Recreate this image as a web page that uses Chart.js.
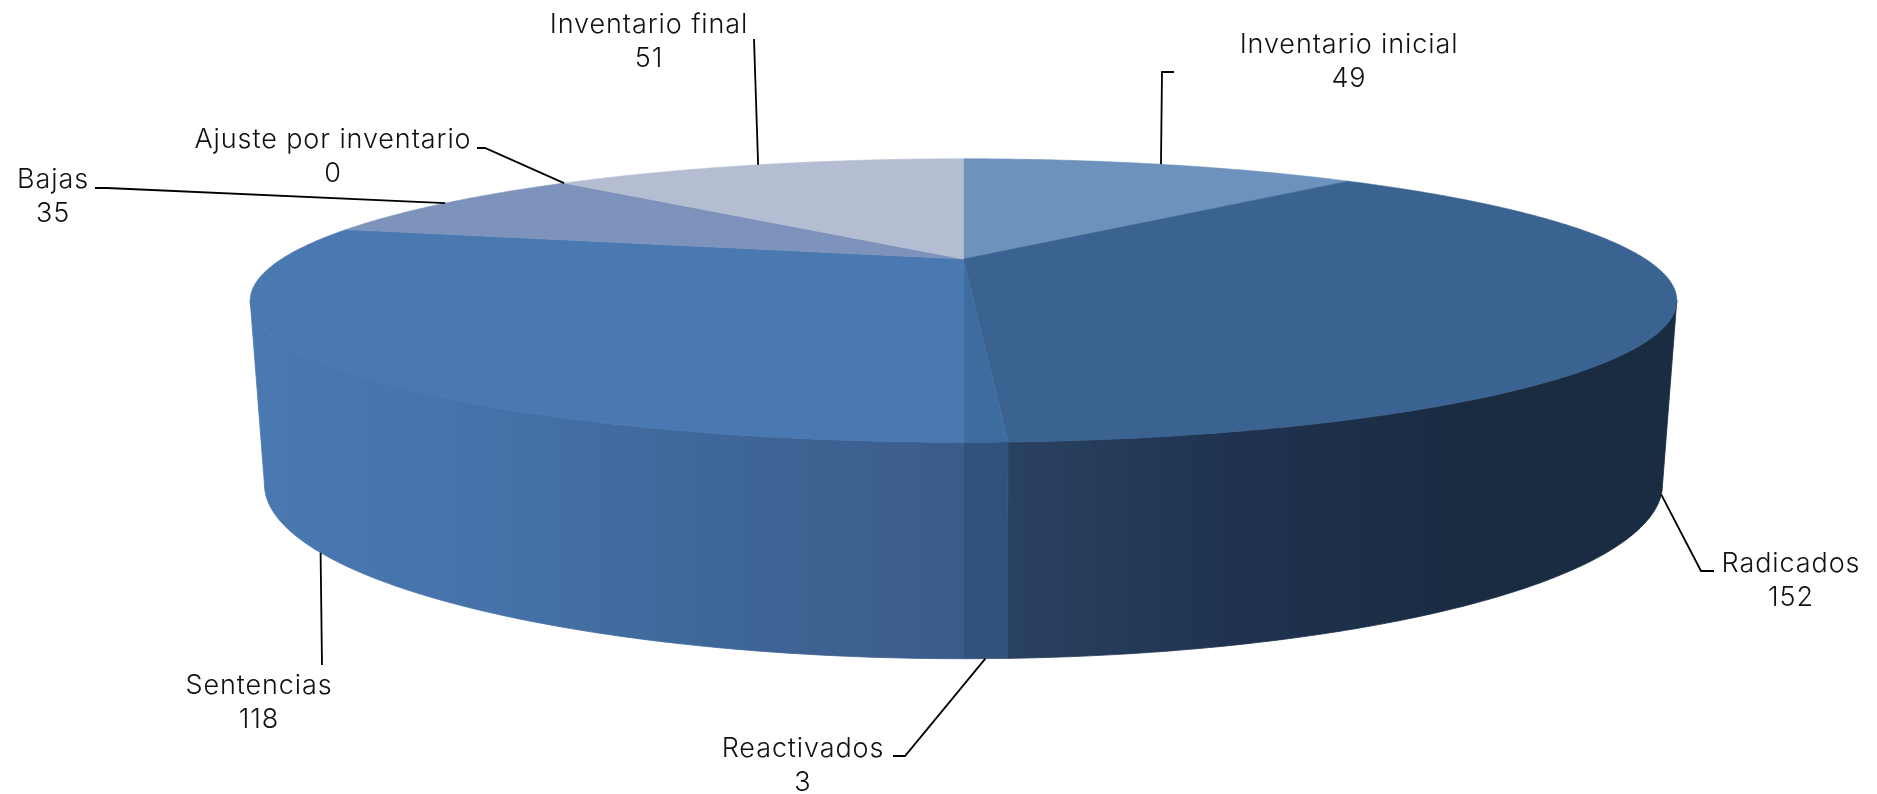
<!DOCTYPE html>
<html>
<head>
<meta charset="utf-8">
<title>Inventario</title>
<script src="https://cdn.jsdelivr.net/npm/chart.js@4"></script>
<style>
  html, body { margin: 0; padding: 0; background: #fff; overflow: hidden; }
  canvas { display: block; }
</style>
</head>
<body>
<canvas id="pie3d" width="1877" height="794"></canvas>
<script>
'use strict';

var categories = ['Inventario inicial', 'Radicados', 'Reactivados', 'Sentencias', 'Bajas', 'Ajuste por inventario', 'Inventario final'];
var values = [49, 152, 3, 118, 35, 0, 51];

var topColors = ['#6d93bd', '#3a6391', '#3f6c9f', '#4a78b1', '#7e93bb', '#8a9cc0', '#b5bdd2'];
// horizontal shading of the outer wall, left to right
var wallColors = [
  ['#3a6391', '#3a6391'],
  ['#2a4262', '#1f3350', '#1a2c42', '#1a2c42'],
  ['#30527b', '#30527b'],
  ['#4a78b1', '#4672a9', '#3e6698', '#3b5c89'],
  ['#7e93bb', '#7e93bb'],
  ['#8a9cc0', '#8a9cc0'],
  ['#b5bdd2', '#b5bdd2']
];

// perspective of the disc
var tilt = 0.293;
var topSquash = 0.19;
var bottomSquash = 0.234;
var bottomScale = 0.98;
var bottomDrop = 174;

// label placement: centre x, first baseline y
var labelX = [1349, 1791, 803, 259, 53, 333, 649];
var labelY = [53, 572, 757, 694, 188, 148, 33];
// leader line: bends from the label side, and whether it ends on the lower rim
var leaderBends = [
  [[1174, 72], [1162, 72]],
  [[1714, 571], [1701, 571]],
  [[893, 756], [905, 756]],
  [[322, 665]],
  [[95, 188], [107, 188]],
  [[477, 148], [485, 148]],
  [[754, 39]]
];
var leaderOnBottom = [false, true, true, true, false, false, false];

var fontName = '300 27px Inter, Lato, sans-serif';

function project(arc, angle, bottom) {
  var u = Math.cos(angle), v = Math.sin(angle);
  var w = 1 / (1 - tilt * v);
  var r = arc.outerRadius;
  if (bottom) {
    return { x: arc.x + r * bottomScale * u * w, y: arc.y + bottomDrop + r * bottomSquash * v * w };
  }
  return { x: arc.x + r * u * w, y: arc.y + r * topSquash * v * w };
}

function rimPoints(arc, from, to, bottom) {
  var n = Math.max(2, Math.ceil(Math.abs(to - from) * 90));
  var pts = [];
  for (var i = 0; i <= n; i++) {
    pts.push(project(arc, from + (to - from) * i / n, bottom));
  }
  return pts;
}

function tracePoints(ctx, pts, isFirst) {
  pts.forEach(function (p, i) {
    if (i === 0 && isFirst) { ctx.moveTo(p.x, p.y); } else { ctx.lineTo(p.x, p.y); }
  });
}

var pie3d = {
  id: 'pie3d',
  beforeDatasetsDraw: function (chart) {
    // outer wall, only the part that faces the viewer
    var ctx = chart.ctx;
    var frontFrom = Math.asin(tilt);
    var frontTo = Math.PI - frontFrom;
    chart.getDatasetMeta(0).data.forEach(function (arc, i) {
      var from = Math.max(arc.startAngle, frontFrom);
      var to = Math.min(arc.endAngle, frontTo);
      if (to <= from) { return; }
      var upper = rimPoints(arc, from, to, false);
      var lower = rimPoints(arc, to, from, true);
      var all = upper.concat(lower);
      var xs = all.map(function (p) { return p.x; });
      var grad = ctx.createLinearGradient(Math.min.apply(null, xs), 0, Math.max.apply(null, xs), 0);
      wallColors[i].forEach(function (c, k) {
        grad.addColorStop(k / (wallColors[i].length - 1), c);
      });
      ctx.beginPath();
      tracePoints(ctx, all, true);
      ctx.closePath();
      ctx.fillStyle = grad;
      ctx.strokeStyle = grad;
      ctx.lineWidth = 0.8;
      ctx.fill();
      ctx.stroke();
    });
  },
  beforeDatasetDraw: function (chart) {
    var ctx = chart.ctx;
    chart.getDatasetMeta(0).data.forEach(function (arc) {
      if (arc.endAngle <= arc.startAngle) { return; }
      ctx.beginPath();
      ctx.moveTo(arc.x, arc.y);
      tracePoints(ctx, rimPoints(arc, arc.startAngle, arc.endAngle, false), false);
      ctx.closePath();
      ctx.fillStyle = arc.options.backgroundColor;
      ctx.strokeStyle = arc.options.backgroundColor;
      ctx.lineWidth = 0.6;
      ctx.fill();
      ctx.stroke();
    });
    return false; // arcs drawn above, skip the flat ones
  },
  afterDraw: function (chart) {
    var ctx = chart.ctx;
    ctx.save();
    chart.getDatasetMeta(0).data.forEach(function (arc, i) {
      var mid = (arc.startAngle + arc.endAngle) / 2;
      var end = project(arc, mid, leaderOnBottom[i]);
      ctx.beginPath();
      leaderBends[i].forEach(function (p, k) {
        if (k === 0) { ctx.moveTo(p[0], p[1]); } else { ctx.lineTo(p[0], p[1]); }
      });
      ctx.lineTo(end.x, end.y);
      ctx.strokeStyle = '#000';
      ctx.lineWidth = 1.8;
      ctx.stroke();

      ctx.font = fontName;
      ctx.letterSpacing = '0.9px';
      ctx.fillStyle = '#111';
      ctx.textAlign = 'center';
      ctx.textBaseline = 'alphabetic';
      ctx.fillText(categories[i], labelX[i], labelY[i]);
      ctx.fillText(String(values[i]), labelX[i], labelY[i] + 34);
    });
    ctx.restore();
  }
};

new Chart(document.getElementById('pie3d').getContext('2d'), {
  type: 'pie',
  data: {
    labels: categories,
    datasets: [{
      data: values,
      backgroundColor: topColors,
      borderWidth: 0
    }]
  },
  options: {
    responsive: false,
    animation: false,
    radius: 682,
    layout: { padding: { left: 50, bottom: 276 } },
    plugins: {
      legend: { display: false },
      tooltip: { enabled: false }
    }
  },
  plugins: [pie3d]
});
</script>
</body>
</html>
